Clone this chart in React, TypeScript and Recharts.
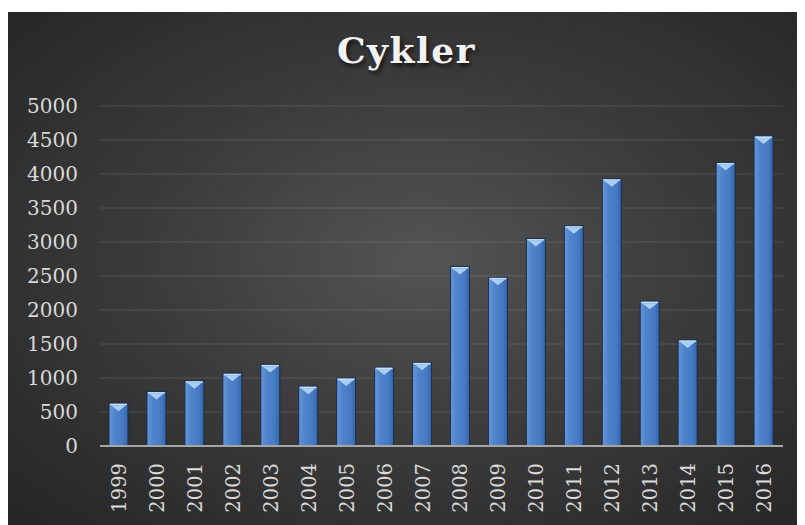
import React from 'react';
import { BarChart, Bar, XAxis, YAxis, CartesianGrid } from 'recharts';

const years = ['1999', '2000', '2001', '2002', '2003', '2004', '2005', '2006', '2007', '2008', '2009', '2010', '2011', '2012', '2013', '2014', '2015', '2016'];
const cykler = [630, 800, 960, 1070, 1200, 880, 1000, 1160, 1230, 2640, 2480, 3050, 3240, 3930, 2130, 1560, 4170, 4560];
const yTicks = [0, 500, 1000, 1500, 2000, 2500, 3000, 3500, 4000, 4500, 5000];

const data = years.map((year, i) => ({ year, value: cykler[i] }));

const font = '"DejaVu Serif", serif';

const BevelBar = (props: any) => {
  const { x, y, width, height } = props;
  if (!height || height <= 0) return null;
  const tri = Math.min(8, height / 2);
  return (
    <g>
      <rect x={x} y={y} width={width} height={height} fill="url(#barGrad)" stroke="#1c2d48" strokeWidth={1} />
      <rect x={x + 1} y={y + 0.5} width={width - 2} height={1.5} fill="#c7e0f8" />
      <polygon
        points={`${x + 2},${y + 2} ${x + width - 2},${y + 2} ${x + width / 2},${y + tri}`}
        fill="#a8cff3"
      />
    </g>
  );
};

const YearTick = (props: any) => {
  const { x, y, payload } = props;
  return (
    <text
      x={x}
      y={y}
      transform={`rotate(-90, ${x}, ${y})`}
      textAnchor="end"
      dy="0.36em"
      fill="#d9d9d9"
      fontSize={19.5}
      fontFamily={font}
    >
      {payload.value}
    </text>
  );
};

export default function App() {
  return (
    <div style={{ paddingTop: 4 }}>
      <div
        style={{
          position: 'relative',
          width: 797,
          height: 513,
          background: 'radial-gradient(ellipse at 52% 48%, #545454 0%, #3c3c3c 45%, #252525 100%)',
        }}
      >
        <div
          style={{
            position: 'absolute',
            top: 17,
            left: 0,
            width: 797,
            textAlign: 'center',
            fontFamily: font,
            fontWeight: 'bold',
            fontSize: 36,
            letterSpacing: 1.5,
            color: '#f2f2f2',
            textShadow: '2px 3px 4px rgba(0,0,0,0.7)',
          }}
        >
          Cykler
        </div>
        <BarChart
          width={797}
          height={513}
          data={data}
          margin={{ top: 94, right: 22, left: 0, bottom: 0 }}
          style={{ position: 'absolute', top: 0, left: 0 }}
        >
          <defs>
            <linearGradient id="barGrad" x1="0" y1="0" x2="1" y2="0">
              <stop offset="0%" stopColor="#6797da" />
              <stop offset="30%" stopColor="#4f84cc" />
              <stop offset="75%" stopColor="#4579c2" />
              <stop offset="100%" stopColor="#3464a8" />
            </linearGradient>
          </defs>
          <CartesianGrid vertical={false} stroke="#ffffff" strokeOpacity={0.13} />
          <XAxis
            dataKey="year"
            height={79}
            interval={0}
            axisLine={{ stroke: '#a6a6a6', strokeWidth: 2 }}
            tickLine={false}
            tickSize={0}
            tickMargin={17}
            tick={<YearTick />}
          />
          <YAxis
            width={92}
            domain={[0, 5000]}
            ticks={yTicks}
            axisLine={false}
            tickLine={false}
            tickSize={0}
            tickMargin={22}
            tick={{ fill: '#d9d9d9', fontSize: 20, fontFamily: font }}
          />
          <Bar dataKey="value" barSize={19} shape={<BevelBar />} isAnimationActive={false} />
        </BarChart>
      </div>
    </div>
  );
}
